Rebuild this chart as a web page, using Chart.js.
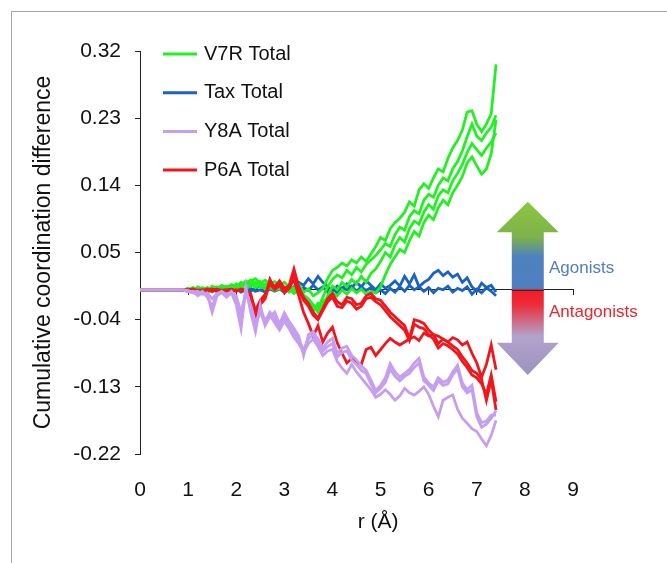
<!DOCTYPE html>
<html>
<head>
<meta charset="utf-8">
<script src="https://cdn.jsdelivr.net/npm/chart.js@4"></script>
<style>
  html, body { margin: 0; padding: 0; background: #fff; }
  #wrap { position: relative; width: 667px; height: 563px; }
  #marco { position: absolute; left: 11px; top: 11px; right: 0; bottom: 0;
           border-left: 1px solid #a6a6a6; border-top: 1px solid #a6a6a6; pointer-events: none; }
</style>
</head>
<body>
<div id="wrap">
  <canvas id="grafico" width="667" height="563"></canvas>
  <div id="marco"></div>
</div>
<script>
// Radios (Å) comunes a todas las curvas
const rValues = [0,
  0.9, 1, 1.1, 1.2, 1.3, 1.4, 1.5, 1.6, 1.7, 1.8,
  1.9, 2, 2.1, 2.2, 2.3, 2.4, 2.5, 2.6, 2.7, 2.8,
  2.9, 3, 3.1, 3.2, 3.3, 3.4, 3.5, 3.6, 3.7, 3.8,
  3.9, 4, 4.1, 4.2, 4.3, 4.4, 4.5, 4.6, 4.7, 4.8,
  4.9, 5, 5.1, 5.2, 5.3, 5.4, 5.5, 5.6, 5.7, 5.8,
  5.9, 6, 6.1, 6.2, 6.3, 6.4, 6.5, 6.6, 6.7, 6.8,
  6.9, 7, 7.1, 7.2, 7.3, 7.4];

// V7R Total (verde)
const v7r1 = [0,
  0, 0.002, -0.003, 0.004, 0.001, -0.002, 0.005, 0.002, 0.006, 0.003,
  0.007, 0.004, 0.010, 0.006, 0.012, 0.015, 0.009, 0.013, 0.008, 0.011,
  0.006, 0.010, 0.004, 0.002, 0.007, -0.003, 0.001, -0.008, -0.004, 0.002,
  0.015, 0.026, 0.030, 0.036, 0.032, 0.040, 0.036, 0.044, 0.038, 0.048,
  0.058, 0.070, 0.066, 0.082, 0.090, 0.096, 0.104, 0.118, 0.112, 0.134,
  0.142, 0.136, 0.150, 0.162, 0.158, 0.176, 0.190, 0.200, 0.214, 0.238,
  0.240, 0.222, 0.212, 0.222, 0.236, 0.302];
const v7r2 = [0,
  0, -0.002, 0.001, -0.004, 0.003, 0.000, -0.003, 0.004, 0.001, 0.005,
  0.002, 0.008, 0.003, 0.009, 0.013, 0.007, 0.011, 0.005, 0.009, 0.003,
  0.008, 0.002, 0.005, -0.002, 0.003, -0.007, -0.012, -0.020, -0.025, -0.010,
  0.004, 0.014, 0.020, 0.016, 0.026, 0.020, 0.030, 0.024, 0.034, 0.040,
  0.046, 0.054, 0.062, 0.058, 0.074, 0.084, 0.080, 0.098, 0.106, 0.102,
  0.120, 0.128, 0.124, 0.140, 0.150, 0.146, 0.162, 0.172, 0.186, 0.205,
  0.222, 0.206, 0.200, 0.210, 0.218, 0.234];
const v7r3 = [0,
  0, 0.001, -0.002, 0.002, -0.001, 0.003, -0.002, 0.001, 0.004, 0.000,
  0.005, 0.001, 0.006, 0.012, 0.005, 0.010, 0.004, 0.008, 0.002, 0.006,
  0.001, 0.004, -0.003, 0.002, -0.006, -0.010, -0.016, -0.028, -0.018, -0.022,
  -0.008, 0.005, 0.000, 0.010, 0.004, 0.014, 0.008, 0.018, 0.010, 0.022,
  0.028, 0.038, 0.050, 0.044, 0.060, 0.070, 0.064, 0.082, 0.092, 0.088,
  0.104, 0.114, 0.108, 0.126, 0.134, 0.130, 0.146, 0.156, 0.168, 0.184,
  0.196, 0.188, 0.180, 0.190, 0.198, 0.210];
const v7r4 = [0,
  0, 0.000, 0.003, -0.001, 0.002, -0.003, 0.001, -0.002, 0.002, -0.001,
  0.003, -0.001, 0.004, 0.000, 0.008, 0.003, 0.006, 0.001, 0.004, -0.001,
  0.003, -0.002, 0.001, -0.005, -0.001, -0.008, -0.014, -0.022, -0.030, -0.015,
  -0.012, -0.004, -0.008, 0.000, -0.006, 0.002, -0.004, 0.001, -0.006, -0.002,
  -0.004, 0.004, 0.020, 0.034, 0.044, 0.054, 0.050, 0.066, 0.078, 0.072,
  0.090, 0.100, 0.094, 0.110, 0.120, 0.114, 0.130, 0.140, 0.152, 0.170,
  0.178, 0.166, 0.155, 0.162, 0.182, 0.228];

// Tax Total (azul)
const tax1 = [0,
  0, 0.001, -0.002, 0.000, -0.003, 0.001, -0.002, 0.000, -0.003, -0.001,
  -0.002, 0.001, -0.003, 0.000, -0.002, 0.002, 0.005, 0.001, 0.004, 0.000,
  0.003, -0.001, 0.004, 0.002, 0.010, 0.006, 0.015, 0.008, 0.018, 0.010,
  0.004, -0.002, 0.005, 0.001, 0.008, 0.003, 0.010, 0.004, 0.012, 0.006,
  0.000, 0.008, 0.002, 0.006, 0.012, 0.005, 0.018, 0.008, 0.020, 0.004,
  0.010, 0.014, 0.022, 0.026, 0.019, 0.024, 0.017, 0.021, 0.010, 0.016,
  0.004, -0.002, 0.009, 0.003, 0.006, -0.003];
const tax2 = [0,
  0, -0.001, 0.000, -0.002, 0.000, -0.003, 0.000, -0.002, 0.000, -0.002,
  0.000, -0.002, 0.001, -0.001, 0.002, -0.002, 0.000, -0.003, 0.001, -0.002,
  0.001, -0.003, 0.000, 0.004, -0.002, 0.003, -0.001, 0.006, 0.000, 0.004,
  -0.003, 0.002, -0.004, 0.003, 0.000, 0.005, -0.002, 0.004, -0.001, 0.003,
  -0.004, 0.000, -0.005, 0.002, -0.003, 0.004, -0.002, 0.006, 0.000, 0.004,
  -0.002, 0.003, -0.004, 0.002, 0.000, 0.005, -0.003, 0.002, -0.001, 0.004,
  -0.006, 0.001, -0.004, 0.003, -0.002, -0.008];

// Y8A Total (lila)
const y8a1 = [0,
  0, -0.003, -0.002, -0.008, -0.004, -0.006, -0.030, -0.008, -0.004, -0.010,
  -0.004, -0.020, -0.052, 0.004, -0.030, -0.056, -0.020, -0.048, -0.036, -0.030,
  -0.046, -0.031, -0.042, -0.052, -0.062, -0.088, -0.060, -0.056, -0.066, -0.078,
  -0.070, -0.065, -0.085, -0.078, -0.076, -0.088, -0.094, -0.102, -0.108, -0.121,
  -0.135, -0.128, -0.118, -0.099, -0.110, -0.117, -0.112, -0.107, -0.098, -0.092,
  -0.117, -0.125, -0.130, -0.118, -0.124, -0.121, -0.110, -0.101, -0.125, -0.134,
  -0.128, -0.165, -0.178, -0.176, -0.168, -0.168];
const y8a2 = [0,
  0, -0.002, -0.004, -0.005, -0.002, -0.010, -0.022, -0.006, -0.002, -0.008,
  -0.002, -0.012, -0.045, -0.002, -0.025, -0.050, -0.025, -0.042, -0.030, -0.038,
  -0.050, -0.036, -0.048, -0.058, -0.068, -0.080, -0.066, -0.060, -0.072, -0.082,
  -0.076, -0.072, -0.090, -0.084, -0.082, -0.094, -0.100, -0.108, -0.112, -0.126,
  -0.138, -0.132, -0.124, -0.106, -0.116, -0.122, -0.116, -0.112, -0.104, -0.098,
  -0.122, -0.128, -0.135, -0.122, -0.128, -0.126, -0.114, -0.106, -0.130, -0.138,
  -0.134, -0.170, -0.184, -0.180, -0.172, -0.162];
const y8a3 = [0,
  0, -0.001, -0.003, -0.002, -0.006, -0.004, -0.012, -0.005, -0.003, -0.006,
  -0.003, -0.008, -0.030, -0.004, -0.020, -0.044, -0.030, -0.046, -0.034, -0.044,
  -0.054, -0.042, -0.052, -0.064, -0.072, -0.084, -0.072, -0.066, -0.076, -0.088,
  -0.082, -0.080, -0.096, -0.105, -0.112, -0.100, -0.110, -0.118, -0.126, -0.134,
  -0.144, -0.140, -0.134, -0.140, -0.148, -0.142, -0.132, -0.138, -0.141, -0.136,
  -0.130, -0.140, -0.156, -0.170, -0.148, -0.144, -0.141, -0.160, -0.172, -0.179,
  -0.186, -0.190, -0.200, -0.209, -0.195, -0.175];

// P6A Total (rojo)
const p6a1 = [0,
  0, -0.001, 0.001, -0.002, 0.000, -0.001, 0.001, -0.002, 0.000, -0.001,
  0.000, -0.002, 0.001, -0.001, -0.005, -0.035, -0.020, -0.012, 0.010, 0.004,
  0.012, 0.002, 0.006, 0.028, 0.004, -0.010, -0.018, -0.030, -0.038, -0.025,
  -0.012, -0.005, -0.016, -0.020, -0.010, -0.012, -0.020, -0.018, -0.008, -0.005,
  -0.012, -0.014, -0.022, -0.030, -0.036, -0.042, -0.048, -0.065, -0.040, -0.042,
  -0.045, -0.054, -0.060, -0.072, -0.066, -0.070, -0.075, -0.080, -0.090, -0.098,
  -0.108, -0.112, -0.120, -0.148, -0.121, -0.161];
const p6a2 = [0,
  0, 0.000, -0.002, 0.000, -0.001, 0.001, -0.002, 0.000, -0.001, 0.000,
  -0.002, 0.000, -0.001, 0.001, -0.008, -0.036, -0.018, -0.010, 0.014, 0.002,
  0.008, 0.000, 0.004, 0.020, 0.000, -0.014, -0.022, -0.034, -0.040, -0.028,
  -0.016, -0.010, -0.022, -0.024, -0.015, -0.018, -0.026, -0.022, -0.012, -0.010,
  -0.016, -0.020, -0.028, -0.036, -0.042, -0.048, -0.054, -0.068, -0.046, -0.050,
  -0.052, -0.060, -0.066, -0.078, -0.072, -0.075, -0.080, -0.086, -0.096, -0.104,
  -0.114, -0.118, -0.126, -0.140, -0.114, -0.150];
const p6a3 = [0,
  0, 0.000, 0.001, -0.001, 0.000, -0.002, 0.000, 0.001, -0.001, 0.000,
  0.001, -0.001, 0.000, -0.002, -0.006, -0.028, -0.014, -0.006, 0.008, 0.000,
  0.006, -0.004, 0.002, 0.014, -0.008, -0.030, -0.045, -0.062, -0.048, -0.070,
  -0.058, -0.050, -0.071, -0.085, -0.098, -0.092, -0.097, -0.100, -0.080, -0.077,
  -0.088, -0.080, -0.072, -0.065, -0.070, -0.074, -0.070, -0.066, -0.063, -0.068,
  -0.058, -0.062, -0.060, -0.062, -0.066, -0.070, -0.064, -0.067, -0.074, -0.070,
  -0.085, -0.098, -0.117, -0.100, -0.074, -0.107];

const nombresSeries = ['V7R Total', 'Tax Total', 'Y8A Total', 'P6A Total'];
const coloresSeries = ['#22f022', '#1a62c4', '#c69ef0', '#f0161c'];
const curvasSeries = [[v7r1, v7r2, v7r3, v7r4], [tax1, tax2], [y8a1, y8a2, y8a3], [p6a1, p6a2, p6a3]];
const ordenSeries = [2, 3, 0, 1]; // lila arriba, luego rojo, verde, azul
const yTicks = [-0.22, -0.13, -0.04, 0.05, 0.14, 0.23, 0.32];
const xTicks = [0, 1, 2, 3, 4, 5, 6, 7, 8, 9];

// Flecha de agonistas / antagonistas (en coordenadas de datos)
const flecha = { r: 8.06, puntaArriba: 0.118, baseArriba: 0.077, baseAbajo: -0.071, puntaAbajo: -0.114 };
const textosFlecha = [
  { texto: 'Agonists', r: 8.5, y: 0.029, color: '#4f7fbf' },
  { texto: 'Antagonists', r: 8.5, y: -0.030, color: '#e8262c' }
];
const tituloX = { texto: 'r (Å)', r: 4.95 };

const fuente = "'Liberation Sans', Arial, sans-serif";

// Armar los datasets a partir de las curvas
const datasets = [];
curvasSeries.forEach((curvas, s) => {
  curvas.forEach(valores => {
    datasets.push({
      label: nombresSeries[s],
      data: rValues.map((r, i) => ({ x: r, y: valores[i] })),
      borderColor: coloresSeries[s],
      borderWidth: 2.8,
      pointRadius: 0,
      tension: 0,
      fill: false,
      order: ordenSeries[s]
    });
  });
});

// Plugin para leyenda interna, flecha y titulo del eje x
const extras = {
  id: 'extras',
  afterDraw(chart) {
    const { ctx, chartArea, scales } = chart;
    const sx = scales.x, sy = scales.y;
    ctx.save();

    // leyenda
    ctx.font = '20px ' + fuente;
    ctx.textBaseline = 'middle';
    ctx.textAlign = 'left';
    nombresSeries.forEach((nombre, i) => {
      const y = chartArea.top + 3 + i * 38.7;
      ctx.strokeStyle = coloresSeries[i];
      ctx.lineWidth = 3;
      ctx.beginPath();
      ctx.moveTo(chartArea.left + 23, y);
      ctx.lineTo(chartArea.left + 57, y);
      ctx.stroke();
      ctx.fillStyle = '#111';
      ctx.fillText(nombre, chartArea.left + 64, y);
    });

    // flecha doble con degradado
    const cx = sx.getPixelForValue(flecha.r);
    const yt = sy.getPixelForValue(flecha.puntaArriba);
    const ybt = sy.getPixelForValue(flecha.baseArriba);
    const ybb = sy.getPixelForValue(flecha.baseAbajo);
    const yb = sy.getPixelForValue(flecha.puntaAbajo);
    const grad = ctx.createLinearGradient(0, yt, 0, yb);
    const paradas = [
      [0.118, '#8dc63f'], [0.07, '#7db24c'], [0.045, '#4f81bd'], [0.002, '#4f7fc0'],
      [-0.001, '#f21d26'], [-0.02, '#ec2d3a'], [-0.062, '#b3a2cc'], [-0.114, '#9d93bf']
    ];
    paradas.forEach(([v, c]) => {
      grad.addColorStop((sy.getPixelForValue(v) - yt) / (yb - yt), c);
    });
    ctx.fillStyle = grad;
    ctx.beginPath();
    ctx.moveTo(cx, yt);
    ctx.lineTo(cx + 31, ybt);
    ctx.lineTo(cx + 16, ybt);
    ctx.lineTo(cx + 16, ybb);
    ctx.lineTo(cx + 31, ybb);
    ctx.lineTo(cx, yb);
    ctx.lineTo(cx - 31, ybb);
    ctx.lineTo(cx - 16, ybb);
    ctx.lineTo(cx - 16, ybt);
    ctx.lineTo(cx - 31, ybt);
    ctx.closePath();
    ctx.fill();

    // linea del cero por encima de la flecha
    ctx.strokeStyle = '#222';
    ctx.lineWidth = 1;
    ctx.beginPath();
    ctx.moveTo(cx - 16, sy.getPixelForValue(0) + 0.5);
    ctx.lineTo(cx + 16, sy.getPixelForValue(0) + 0.5);
    ctx.stroke();

    ctx.font = '17px ' + fuente;
    textosFlecha.forEach(t => {
      ctx.fillStyle = t.color;
      ctx.fillText(t.texto, sx.getPixelForValue(t.r), sy.getPixelForValue(t.y));
    });

    // titulo eje x
    ctx.font = '21px ' + fuente;
    ctx.fillStyle = '#111';
    ctx.textAlign = 'center';
    ctx.fillText(tituloX.texto, sx.getPixelForValue(tituloX.r), 522);
    ctx.restore();
  }
};

new Chart(document.getElementById('grafico'), {
  type: 'line',
  data: { datasets: datasets },
  plugins: [extras],
  options: {
    responsive: false,
    animation: false,
    layout: { padding: { left: 27, right: 94, top: 51, bottom: 0 } },
    plugins: { legend: { display: false }, tooltip: { enabled: false } },
    scales: {
      x: {
        type: 'linear',
        min: 0, max: 9,
        afterFit: s => { s.height = 109; },
        afterBuildTicks: s => { s.ticks = xTicks.map(v => ({ value: v })); },
        ticks: { padding: 24, color: '#111', font: { size: 21, family: fuente } },
        grid: { display: false, drawTicks: false },
        border: { display: false }
      },
      cero: {
        type: 'linear',
        axis: 'x',
        position: { y: 0 },
        min: 0, max: 9,
        afterBuildTicks: s => { s.ticks = xTicks.map(v => ({ value: v })); },
        ticks: { display: false },
        grid: { drawOnChartArea: false, drawTicks: true, tickLength: 5, color: '#222' },
        border: { display: true, color: '#222', width: 1 }
      },
      y: {
        type: 'linear',
        min: -0.22, max: 0.32,
        afterFit: s => { s.width = 113; },
        afterBuildTicks: s => { s.ticks = yTicks.map(v => ({ value: v })); },
        ticks: {
          padding: 14, color: '#111', font: { size: 21, family: fuente },
          callback: v => v.toFixed(2)
        },
        grid: { drawOnChartArea: false, drawTicks: true, tickLength: 5, color: '#222' },
        border: { display: true, color: '#222', width: 1 },
        title: {
          display: true, text: 'Cumulative coordination difference',
          color: '#111', font: { size: 23, family: fuente }, padding: 3
        }
      }
    }
  }
});
</script>
</body>
</html>
